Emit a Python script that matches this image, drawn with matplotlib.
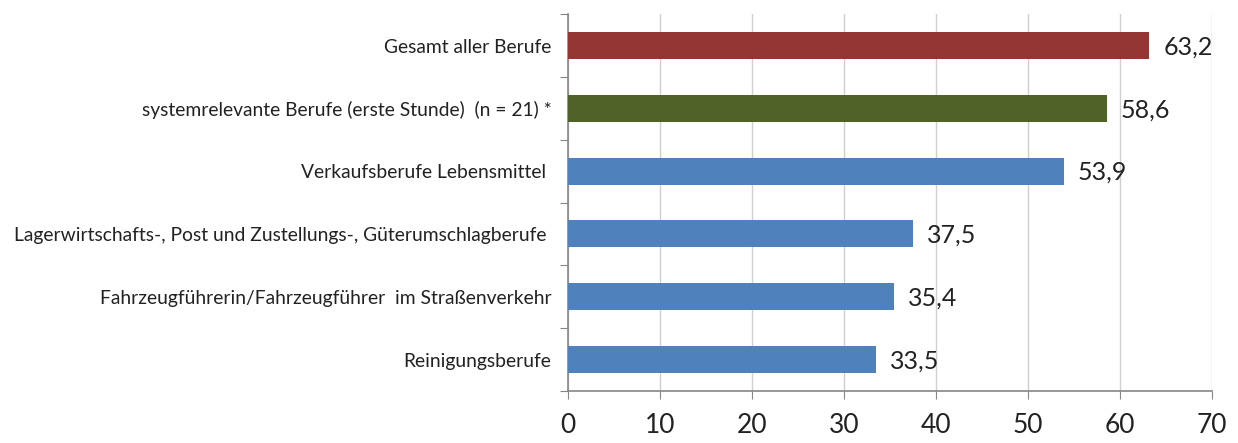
import matplotlib as mpl
import matplotlib.pyplot as plt
import numpy as np

mpl.rcParams.update(
    {
        "font.family": ["Lato", "DejaVu Sans"],
        "axes.spines.right": False,
        "axes.spines.top": False,
    }
)

categories = [
    "Gesamt aller Berufe",
    "systemrelevante Berufe (erste Stunde)  (n = 21) *",
    "Verkaufsberufe Lebensmittel ",
    "Lagerwirtschafts-, Post und Zustellungs-, Güterumschlagberufe ",
    "Fahrzeugführerin/Fahrzeugführer  im Straßenverkehr",
    "Reinigungsberufe",
]
values = [63.2, 58.6, 53.9, 37.5, 35.4, 33.5]
value_labels = ["63,2", "58,6", "53,9", "37,5", "35,4", "33,5"]
bar_colors = ["#943634", "#4F6228", "#4F81BD", "#4F81BD", "#4F81BD", "#4F81BD"]
x_ticks = [0, 10, 20, 30, 40, 50, 60, 70]

fig = plt.figure(figsize=(12.38, 4.43), dpi=100)
ax = fig.add_axes([0.4588, 0.1174, 0.5202, 0.8506])

y = np.arange(len(categories))
ax.barh(y, values, height=0.43, color=bar_colors, zorder=3)

for yi, v, lab in zip(y, values, value_labels):
    ax.annotate(lab, (v, yi), xytext=(10, -1), textcoords="offset points",
                ha="left", va="center", fontsize=18, color="#222222")

ax.set_ylim(len(categories) - 0.5, -0.5)
ax.set_xlim(0, 70)
ax.set_xticks(x_ticks)
ax.set_xticklabels([str(t) for t in x_ticks], fontsize=19)

# category labels as minor ticks, tick marks at category boundaries
ax.set_yticks(np.arange(-0.5, len(categories)), labels=[""] * (len(categories) + 1))
ax.set_yticks(y, minor=True)
ax.set_yticklabels(categories, minor=True, fontsize=13.9, color="#222222")
ax.tick_params(axis="y", which="minor", length=0, pad=12)
ax.tick_params(axis="y", which="major", length=6, direction="out", color="#868686")
ax.tick_params(axis="x", length=6, direction="out", color="#868686", pad=10,
               labelcolor="#222222")

ax.grid(axis="x", color="#D0D0D0", linewidth=1.0, zorder=0)
for s in ("left", "bottom"):
    ax.spines[s].set_color("#868686")
    ax.spines[s].set_linewidth(1.2)

fig.savefig("out.png", dpi=100)
